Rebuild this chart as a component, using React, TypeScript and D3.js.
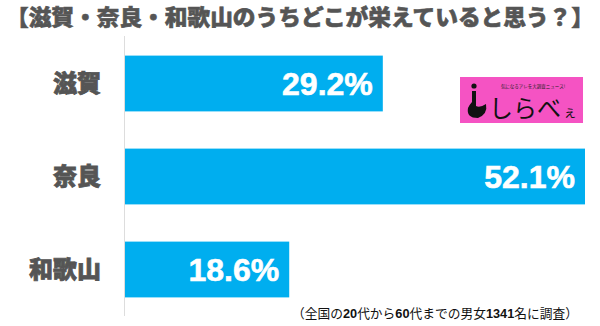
import React from "react";
import * as d3 from "d3";

const categories = ["滋賀", "奈良", "和歌山"];
const values = [29.2, 52.1, 18.6];
const title = "【滋賀・奈良・和歌山のうちどこが栄えていると思う？】";
const footParts: [string, boolean][] = [
  ["（全国の", false], ["20", true], ["代から", false], ["60", true],
  ["代までの男女", false], ["1341", true], ["名に調査）", false],
];

const W = 600, H = 326;
const FONT = "'Noto Sans CJK JP', 'Noto Sans', sans-serif";

export default function App() {
  const x = d3.scaleLinear().domain([0, 52.1]).range([125, 585]);
  const y = d3.scaleBand().domain(categories).range([37, 316]).paddingInner(0.4).paddingOuter(0.2);
  return (
    <svg width={W} height={H} style={{ position: "absolute", left: 0, top: 0 }} fontFamily={FONT}>
      <rect width={W} height={H} fill="#fff" />
      <text x={W / 2} y={25} textAnchor="middle" fontSize={22} fontWeight={900} fill="#555" stroke="#555" strokeWidth={0.6} textLength={588} lengthAdjust="spacingAndGlyphs">{title}</text>
      <line x1={124.5} x2={124.5} y1={36} y2={316} stroke="#ddd" strokeWidth={1} />
      {categories.map((c, i) => (
        <g key={c}>
          <rect x={x(0)} y={y(c)} width={x(values[i]) - x(0)} height={y.bandwidth()} fill="#00aeef" />
          <text x={101} y={(y(c) as number) + y.bandwidth() / 2} dy="0.36em" textAnchor="end" fontSize={24} fontWeight={900} fill="#555" stroke="#555" strokeWidth={0.8}>{c}</text>
          <text x={x(values[i]) - 10} y={(y(c) as number) + y.bandwidth() / 2} dy="0.36em" textAnchor="end" fontSize={32} fontWeight={700} fill="#fff" stroke="#fff" strokeWidth={0.6} fontFamily="'Liberation Sans', Arial, sans-serif">{values[i].toFixed(1)}%</text>
        </g>
      ))}
      <g>
        <rect x={460} y={77} width={123} height={46} fill="#f553c3" />
        <text x={533} y={88} textAnchor="middle" fontSize={4.5} fill="#222">気になるアレを大調査ニュース!</text>
        <circle cx={474} cy={86} r={2.6} fill="#111" />
        <path d="M472,91 L476,91 L476,106 Q480,108 486,104 Q488,114 478,118 Q466,118 468,108 Q470,104 472,102 Z" fill="#111" />
        <text x={489} y={117} fontSize={24} fill="#111">しらべ</text>
        <text x={563} y={117} fontSize={14} fill="#111">ぇ</text>
      </g>
      <text x={292} y={318} fontSize={13} fill="#111" textLength={286} lengthAdjust="spacingAndGlyphs" fontFamily="'Noto Sans CJK JP', sans-serif">
        {footParts.map(([t, b], i) => (
          <tspan key={i} fontWeight={b ? 700 : 400} fontFamily={b ? "'Liberation Sans', Arial, sans-serif" : undefined}>{t}</tspan>
        ))}
      </text>
    </svg>
  );
}
